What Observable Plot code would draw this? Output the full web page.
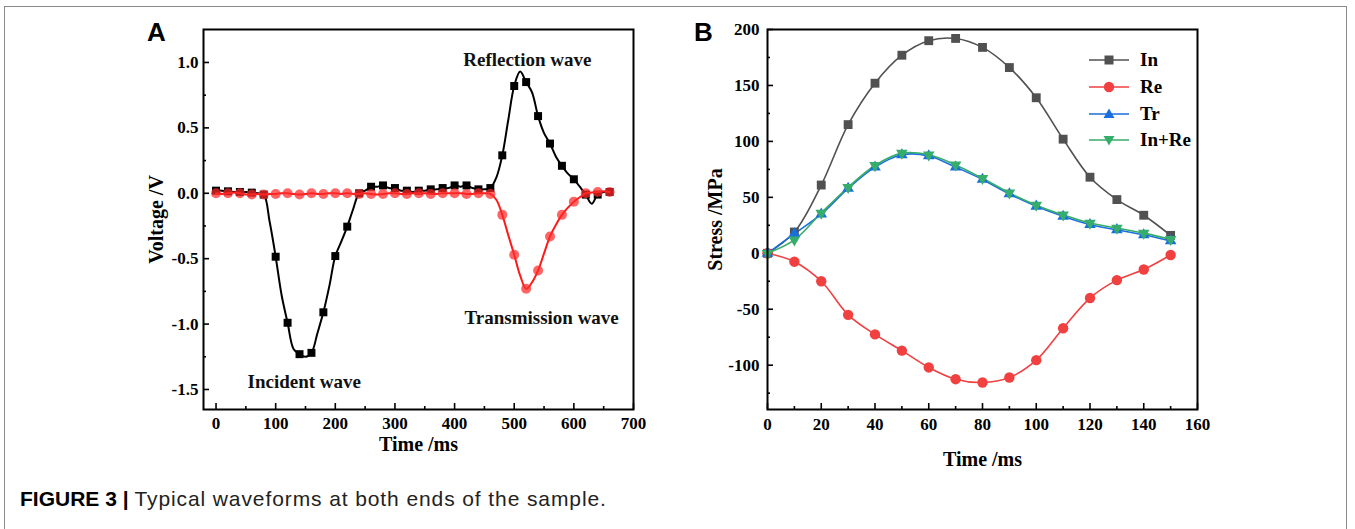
<!DOCTYPE html>
<html>
<head>
<meta charset="utf-8">
<script src="https://cdn.jsdelivr.net/npm/d3@7"></script>
<script src="https://cdn.jsdelivr.net/npm/@observablehq/plot@0.6"></script>
<style>
  body { margin: 0; background: #fff; }
  #root { position: relative; width: 1355px; height: 529px; overflow: hidden; background: #fff; }
  #border { position: absolute; left: 4px; top: 6px; width: 1343px; height: 600px; border: 1px solid #8a8a8a; box-sizing: border-box; }
  .panel { position: absolute; top: 0; }
  .plabel { position: absolute; font-family: "Liberation Sans", Arial, sans-serif; font-weight: bold; font-size: 26px; line-height: 1; color: #000; }
  #legend { position: absolute; left: 1088px; top: 47px; font-family: "Liberation Serif", "Times New Roman", serif; font-weight: bold; font-size: 19px; color: #000; }
  #legend .row { display: flex; align-items: center; height: 26.7px; }
  #legend svg { margin-right: 10px; }
  #caption { position: absolute; left: 20px; top: 487px; font-family: "Liberation Sans", Arial, sans-serif; font-size: 21px; color: #222; white-space: nowrap; }
  #caption span { letter-spacing: 0.9px; }
  #caption b { color: #000; }
</style>
</head>
<body>
<div id="root">
  <div id="border"></div>
  <div id="panelA" class="panel" style="left:130px"></div>
  <div id="panelB" class="panel" style="left:690px"></div>
  <div class="plabel" style="left:147px; top:19px">A</div>
  <div class="plabel" style="left:694px; top:19px">B</div>
  <div id="legend"></div>
  <div id="caption"><b>FIGURE 3 |</b> <span>Typical waveforms at both ends of the sample.</span></div>
</div>
<script>
// ---------- Panel A: voltage waveforms ----------
const timeA = [0,10,20,30,40,50,60,70,80,90,100,110,120,130,140,150,160,170,180,190,200,210,220,230,240,250,260,270,280,290,300,310,320,330,340,350,360,370,380,390,400,410,420,430,440,450,460,470,480,490,500,510,520,530,540,550,560,570,580,590,600,610,620,630,640,650,660];
const incidentReflection = [0.02,0.02,0.015,0.01,0.01,0.01,0.005,0.0,-0.01,-0.22,-0.485,-0.78,-0.99,-1.19,-1.23,-1.25,-1.22,-1.07,-0.91,-0.71,-0.48,-0.37,-0.255,-0.12,0.0,0.02,0.05,0.05,0.06,0.04,0.04,0.02,0.02,0.01,0.02,0.02,0.03,0.03,0.04,0.04,0.06,0.05,0.06,0.04,0.03,0.03,0.04,0.12,0.29,0.56,0.82,0.93,0.85,0.77,0.59,0.46,0.38,0.28,0.21,0.15,0.107,0.05,-0.01,-0.08,-0.01,0.01,0.01];
const transmission = [0.0,-0.005,0.0,0.005,0.0,-0.01,-0.01,-0.005,-0.01,-0.005,-0.005,0.0,0.0,-0.005,-0.01,-0.005,0.0,-0.005,-0.005,0.0,0.0,-0.005,0.0,-0.005,-0.005,0.0,-0.005,-0.01,-0.005,0.0,0.0,-0.005,-0.005,0.0,0.0,0.0,-0.005,-0.005,0.0,0.0,0.0,0.0,-0.005,-0.005,0.0,0.0,-0.005,-0.05,-0.165,-0.32,-0.47,-0.63,-0.73,-0.68,-0.59,-0.46,-0.33,-0.24,-0.165,-0.11,-0.064,-0.03,0.0,0.005,0.01,0.015,0.01];
const ticksAx = [0,100,200,300,400,500,600,700];
const minorAx = [50,150,250,350,450,550,650];
const ticksAy = [-1.5,-1.0,-0.5,0.0,0.5,1.0];
const minorAy = [-1.25,-0.75,-0.25,0.25,0.75];
const annotLabels = ["Reflection wave","Incident wave","Transmission wave"];
const annotTime = [522,148,546];
const annotVolt = [1.023,-1.44,-0.955];

// ---------- Panel B: stress ----------
const timeB = [0,10,20,30,40,50,60,70,80,90,100,110,120,130,140,150];
const stressIn = [0,19,61,115,152,177,190,192,184,166,139,102,68,48,34,16];
const stressRe = [0,-7.5,-25,-55,-72.5,-87,-102,-112.5,-115.5,-111,-95.5,-67,-40,-24,-14.5,-1.5];
const stressTr = [0,17.5,35,58,77,88,87,77,66,53,42,33,25.5,21,16.5,11];
const stressInRe = [0,12,36,59,78.5,89.5,88,79,67,54,43,34.3,27,22.5,18,12.5];
const seriesNames = ["In","Re","Tr","In+Re"];
const seriesColors = ["#515151","#F14040","#1A6FDF","#37AD6B"];
const ticksBx = [0,20,40,60,80,100,120,140,160];
const minorBx = [10,30,50,70,90,110,130,150];
const ticksBy = [-100,-50,0,50,100,150,200];
const minorBy = [-125,-75,-25,25,75,125,175];

const serif = "'Liberation Serif', 'Times New Roman', serif";
const baseStyle = {fontFamily: serif, fontWeight: "bold", fontSize: "17px", color: "#000", background: "transparent", overflow: "visible"};

// ----- build Panel A -----
const dataA = timeA.map((t, i) => ({t, v: incidentReflection[i], r: transmission[i]}));
const markersA = dataA.filter(d => d.t % 20 === 0);
const annots = annotLabels.map((s, i) => ({s, t: annotTime[i], v: annotVolt[i]}));

const plotA = Plot.plot({
  width: 520, height: 470,
  marginLeft: 73, marginRight: 17, marginTop: 29, marginBottom: 61,
  style: baseStyle,
  x: {domain: [-21, 700]},
  y: {domain: [-1.653, 1.252]},
  marks: [
    Plot.axisX({ticks: minorAx, tickSize: -3, tickFormat: () => "", strokeWidth: 1.6, label: null}),
    Plot.axisX({ticks: ticksAx, tickSize: -6, tickPadding: 13, strokeWidth: 1.6, tickFormat: d => String(d),
      label: "Time /ms", labelAnchor: "center", labelArrow: "none", labelOffset: 41, fontSize: 17}),
    Plot.axisY({ticks: minorAy, tickSize: -3, tickFormat: () => "", strokeWidth: 1.6, label: null}),
    Plot.axisY({ticks: ticksAy, tickSize: -6, tickPadding: 11, strokeWidth: 1.6, tickFormat: d => d.toFixed(1),
      label: "Voltage /V", labelAnchor: "center", labelArrow: "none", labelOffset: 55, fontSize: 17}),
    Plot.line(dataA, {x: "t", y: "v", stroke: "#000", strokeWidth: 2, curve: "catmull-rom"}),
    Plot.dot(markersA, {x: "t", y: "v", symbol: "square", r: 4.5, fill: "#000", stroke: "none"}),
    Plot.line(dataA, {x: "t", y: "r", stroke: "#ff1a1a", strokeWidth: 2, curve: "catmull-rom"}),
    Plot.dot(markersA, {x: "t", y: "r", symbol: "circle", r: 5, fill: "#ff2a2a", fillOpacity: 0.72, stroke: "none"}),
    Plot.text(annots, {x: "t", y: "v", text: "s", fontSize: 19, fontWeight: "bold", fill: "#111"}),
    Plot.frame({stroke: "#000", strokeWidth: 2})
  ]
});
document.getElementById("panelA").appendChild(plotA);

// ----- build Panel B -----
const seriesVals = [stressIn, stressRe, stressTr, stressInRe];
const symbols = ["square", "circle", "triangle", "triangle"];
const radii = [5, 5.2, 4.3, 4.3];
const rotates = [0, 0, 0, 180];
const dataB = [];
seriesNames.forEach((name, k) => timeB.forEach((t, i) => dataB.push({name, t, s: seriesVals[k][i]})));

const seriesMarks = [];
seriesNames.forEach((name, k) => {
  const d = dataB.filter(p => p.name === name);
  seriesMarks.push(Plot.line(d, {x: "t", y: "s", stroke: seriesColors[k], strokeWidth: 1.6, curve: "catmull-rom"}));
});
seriesNames.forEach((name, k) => {
  const d = dataB.filter(p => p.name === name);
  seriesMarks.push(Plot.dot(d, {x: "t", y: "s", symbol: symbols[k], r: radii[k], rotate: rotates[k], fill: seriesColors[k], stroke: "none"}));
});

const plotB = Plot.plot({
  width: 530, height: 480,
  marginLeft: 77, marginRight: 23, marginTop: 29, marginBottom: 71,
  style: baseStyle,
  x: {domain: [0, 160]},
  y: {domain: [-139.6, 200]},
  marks: [
    Plot.axisX({ticks: minorBx, tickSize: -3, tickFormat: () => "", strokeWidth: 1.6, label: null}),
    Plot.axisX({ticks: ticksBx, tickSize: -6, tickPadding: 14, strokeWidth: 1.6, tickFormat: d => String(d),
      label: "Time /ms", labelAnchor: "center", labelArrow: "none", labelOffset: 56, fontSize: 17}),
    Plot.axisY({ticks: minorBy, tickSize: -3, tickFormat: () => "", strokeWidth: 1.6, label: null}),
    Plot.axisY({ticks: ticksBy, tickSize: -6, tickPadding: 14, strokeWidth: 1.6, tickFormat: d => String(d),
      label: "Stress /MPa", labelAnchor: "center", labelArrow: "none", labelOffset: 60, fontSize: 17}),
    ...seriesMarks,
    Plot.frame({stroke: "#000", strokeWidth: 2})
  ]
});
document.getElementById("panelB").appendChild(plotB);

// enlarge axis titles
for (const svg of [plotA, plotB]) {
  svg.querySelectorAll("g[aria-label='x-axis label'], g[aria-label='y-axis label']").forEach(g => {
    g.setAttribute("font-size", "20");
    g.querySelectorAll("text").forEach(t => { t.style.fontSize = "20px"; });
  });
}

// ----- legend -----
const legend = document.getElementById("legend");
const symPaths = {
  square: "M-4.5,-4.5h9v9h-9z",
  circle: "M-5.2,0a5.2,5.2 0 1,0 10.4,0a5.2,5.2 0 1,0 -10.4,0z",
  up: "M0,-5.5L5.5,4L-5.5,4z",
  down: "M0,5.5L5.5,-4L-5.5,-4z"
};
const legendSyms = ["square", "circle", "up", "down"];
seriesNames.forEach((name, k) => {
  const row = document.createElement("div");
  row.className = "row";
  row.innerHTML = `<svg width="42" height="20" viewBox="-21 -10 42 20"><line x1="-20" x2="20" y1="0" y2="0" stroke="${seriesColors[k]}" stroke-width="1.6"/><path d="${symPaths[legendSyms[k]]}" fill="${seriesColors[k]}"/></svg><span>${name}</span>`;
  legend.appendChild(row);
});
</script>
</body>
</html>
